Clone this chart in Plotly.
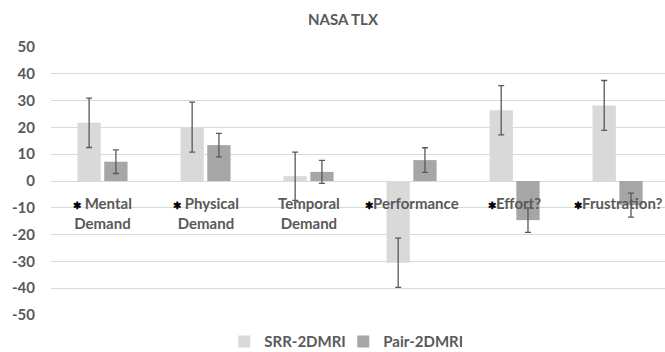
import plotly.graph_objects as go

categories = ["Mental Demand", "Physical Demand", "Temporal Demand", "Performance", "Effort?", "Frustration?"]
label_lines = ["Mental<br>Demand", "Physical<br>Demand", "Temporal<br>Demand", "Performance", "Effort?", "Frustration?"]
starred = [True, True, False, True, True, True]
series_names = ["SRR-2DMRI", "Pair-2DMRI"]
srr_values = [21.7, 20.1, 1.8, -30.5, 26.4, 28.2]
srr_errors = [9.2, 9.3, 9.0, 9.2, 9.2, 9.3]
pair_values = [7.2, 13.4, 3.4, 7.8, -14.6, -9.0]
pair_errors = [4.4, 4.4, 4.3, 4.6, 4.6, 4.5]
y_ticks = [50, 40, 30, 20, 10, 0, -10, -20, -30, -40, -50]

font = "Lato"
gray = "#595959"

fig = go.Figure()
fig.add_trace(go.Bar(
    x=categories, y=srr_values, name="<b>" + series_names[0] + "</b>",
    marker=dict(color="#d9d9d9", line=dict(width=0)),
    error_y=dict(type="data", array=srr_errors, color=gray, thickness=1.3, width=3),
))
fig.add_trace(go.Bar(
    x=categories, y=pair_values, name="<b>" + series_names[1] + "</b>",
    marker=dict(color="#a6a6a6", line=dict(width=0)),
    error_y=dict(type="data", array=pair_errors, color=gray, thickness=1.3, width=3),
))

annotations = []
for cat, lab, st in zip(categories, label_lines, starred):
    star = '<span style="color:black;font-size:10px">✱</span>' if st else ""
    if st and "<br>" in lab:
        first, second = lab.split("<br>")
        text = star + " " + first + "<br>" + second
    else:
        text = star + lab
    annotations.append(dict(
        x=cat, y=-4.0, xref="x", yref="y", text=text, showarrow=False,
        yanchor="top", xanchor="center", align="center",
        font=dict(family=font, size=15, color=gray, weight="bold"),
    ))

fig.update_layout(
    width=665, height=352,
    margin=dict(l=51, r=0, t=47, b=37, autoexpand=False),
    paper_bgcolor="white", plot_bgcolor="white",
    barmode="group", bargap=0.48, bargroupgap=0.13,
    title=dict(text="<b>NASA TLX</b>", x=(343) / 665, xanchor="center", y=1 - 20 / 352, yanchor="middle",
               font=dict(family=font, size=15, color=gray)),
    xaxis=dict(showticklabels=False, showgrid=False, zeroline=False, showline=False,
               range=[-0.5, 5.46], ticks=""),
    yaxis=dict(range=[-50, 50], tickvals=y_ticks, ticktext=[str(v) for v in y_ticks],
               showgrid=True, gridcolor="#d9d9d9", gridwidth=1, zeroline=False, showline=False,
               tickfont=dict(family=font, size=15, color=gray, weight="bold"), ticklabelstandoff=15),
    legend=dict(orientation="h", x=0.476, xanchor="center", y=-0.1, yanchor="middle",
                font=dict(family=font, size=15, color=gray),
                itemwidth=30, entrywidth=74, entrywidthmode="pixels", traceorder="normal"),
    annotations=annotations,
    showlegend=True,
)

fig.write_html("out.html", config={"displayModeBar": False},
               post_script="document.body.style.margin='0';document.body.style.overflow='hidden';")
